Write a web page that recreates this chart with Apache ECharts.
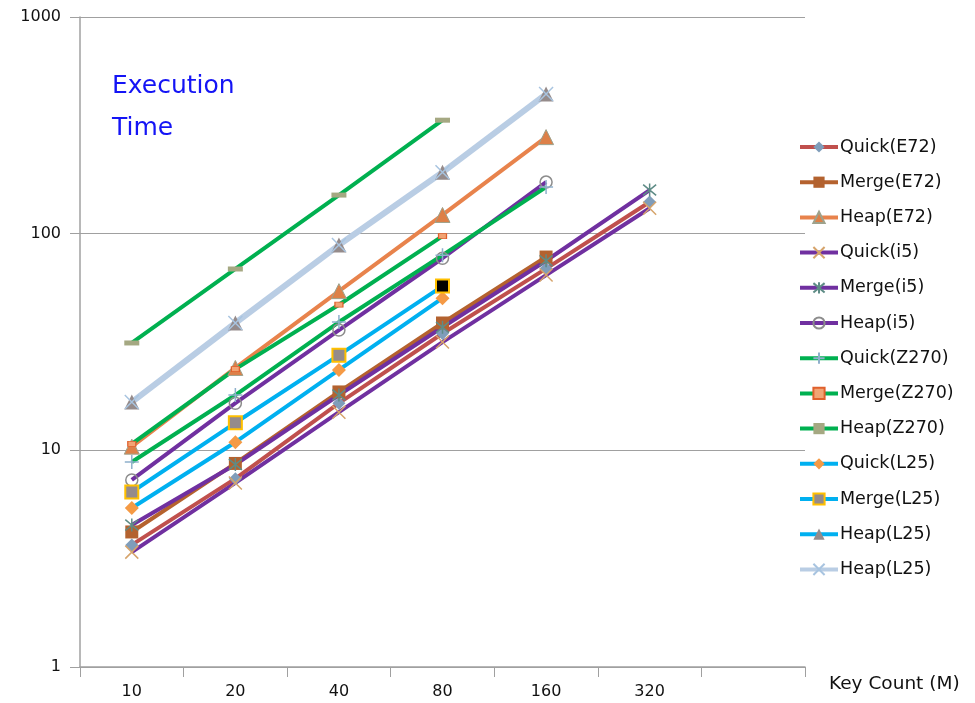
<!DOCTYPE html>
<html>
<head>
<meta charset="utf-8">
<script src="https://cdn.jsdelivr.net/npm/echarts@6/dist/echarts.min.js"></script>
<style>html,body{margin:0;padding:0;background:#fff;}#c{width:975px;height:703px;}</style>
</head>
<body>
<div id="c"></div>
<script>
const categories = ['10', '20', '40', '80', '160', '320', ''];
const yTicks = [1, 10, 100, 1000];

const quickE72 = [3.66, 7.4, 16.5, 34.6, 69, 140];
const mergeE72 = [4.2, 8.7, 18.6, 38.7, 78];
const heapE72 = [10.4, 24.0, 54.3, 122, 279];
const quickI5 = [3.39, 7.07, 15.0, 31.6, 64.4, 131];
const mergeI5 = [4.52, 8.6, 18.0, 37, 75, 159];
const heapI5 = [7.3, 16.5, 35.9, 77, 173];
const quickZ270 = [8.83, 18.0, 39.1, 79.6, 164];
const mergeZ270 = [10.7, 23.7, 47.0, 97.5];
const heapZ270 = [31.3, 68.7, 150.7, 334];
const quickL25 = [5.42, 10.9, 23.5, 50.4];
const mergeL25 = [6.42, 13.4, 27.5, 57.3];
const heapL25 = [16.7, 38.7, 88.6, 192, 441];
const heapL25b = [16.7, 38.7, 88.6, 192, 441];

const seriesNames = ['Quick(E72)', 'Merge(E72)', 'Heap(E72)', 'Quick(i5)', 'Merge(i5)', 'Heap(i5)',
  'Quick(Z270)', 'Merge(Z270)', 'Heap(Z270)', 'Quick(L25)', 'Merge(L25)', 'Heap(L25)', 'Heap(L25) '];

const X = 'path://M0,0L10,10M10,0L0,10';
const AST = 'path://M0,0L10,10M10,0L0,10M5,-1L5,11';
const PLUS = 'path://M5,0L5,10M0,5L10,5';

function mk(name, data, lineColor, width, symbol, size, itemStyle, z) {
  return {
    name: name, type: 'line', data: data,
    symbol: symbol, symbolSize: size, showSymbol: true,
    lineStyle: { color: lineColor, width: width },
    itemStyle: itemStyle,
    emphasis: { disabled: true },
    z: z || 2,
    animation: false
  };
}

const RED = '#c0504d', BROWN = '#b5622e', ORANGE = '#e8834c', PURPLE = '#7030a0',
  GREEN = '#00b050', BLUE = '#00b0f0', PALE = '#b9cde4';

const mergeL25Data = mergeL25.map((v, i) => i === 3 ? { value: v, itemStyle: { color: '#000000', borderColor: '#ffc000', borderWidth: 2 } } : v);

const LW = 4;
const series = [
  mk(seriesNames[0], quickE72, RED, LW, 'diamond', 13, { color: '#7f9dba' }),
  mk(seriesNames[1], mergeE72, BROWN, LW, 'rect', 13, { color: '#b3622f' }),
  mk(seriesNames[2], heapE72, ORANGE, LW, 'triangle', 15, { color: '#dd8048', borderColor: '#9ea28c', borderWidth: 1 }),
  mk(seriesNames[3], quickI5, PURPLE, LW, X, 13, { color: 'none', borderColor: '#d6a46b', borderWidth: 1.5 }),
  mk(seriesNames[4], mergeI5, PURPLE, LW, AST, 13, { color: 'none', borderColor: '#5e8c86', borderWidth: 1.5 }),
  mk(seriesNames[5], heapI5, PURPLE, LW, 'circle', 12, { color: 'rgba(255,255,255,0)', borderColor: '#8c8c8c', borderWidth: 1.5 }),
  mk(seriesNames[6], quickZ270, GREEN, LW, PLUS, 14, { color: 'none', borderColor: '#8fb0cc', borderWidth: 1.5 }),
  mk(seriesNames[7], mergeZ270, GREEN, LW, 'rect', [8, 5], { color: '#f2a474', borderColor: '#e0602c', borderWidth: 1 }),
  mk(seriesNames[8], heapZ270, GREEN, LW, 'rect', [15, 5], { color: '#a5a882' }),
  mk(seriesNames[9], quickL25, BLUE, LW, 'diamond', 14, { color: '#f59a45' }),
  mk(seriesNames[10], mergeL25Data, BLUE, LW, 'rect', 13, { color: '#958b8b', borderColor: '#ffc000', borderWidth: 2 }),
  mk(seriesNames[11], heapL25, BLUE, 3.5, 'triangle', 15, { color: '#958b8b' }),
  mk(seriesNames[12], heapL25b, PALE, 6, X, 14, { color: 'none', borderColor: '#a8c4e0', borderWidth: 1.5 })
];

const chart = echarts.init(document.getElementById('c'), null, { renderer: 'canvas' });
chart.setOption({
  backgroundColor: '#ffffff',
  animation: false,
  title: {
    text: 'Execution\nTime',
    left: 107, top: 60,
    textStyle: { color: '#1414f5', fontSize: 25, fontWeight: 'normal', lineHeight: 42, fontFamily: 'DejaVu Sans, sans-serif' }
  },
  legend: {
    orient: 'vertical', left: 793, top: 133,
    itemWidth: 38, itemHeight: 14, itemGap: 17.2,
    data: seriesNames,
    lineStyle: { width: 4 },
    textStyle: { fontSize: 17.5, color: '#111', fontFamily: 'DejaVu Sans, sans-serif', padding: [0, 0, 0, -3] },
    selectedMode: false
  },
  grid: { left: 80, right: 170, top: 17, bottom: 36, containLabel: false },
  xAxis: {
    type: 'category', data: categories, boundaryGap: true,
    name: 'Key Count (M)', nameLocation: 'end', nameGap: 24,
    nameTextStyle: { fontSize: 18.5, color: '#111', align: 'left', verticalAlign: 'top', padding: [8, 0, 0, 0], fontFamily: 'DejaVu Sans, sans-serif' },
    axisLine: { lineStyle: { color: '#a0a0a0', width: 1.5 } },
    axisTick: { show: true, alignWithLabel: false, interval: 0, length: 10, lineStyle: { color: '#a0a0a0' } },
    axisLabel: { interval: 0, fontSize: 16, color: '#111', margin: 17, fontFamily: 'DejaVu Sans, sans-serif' },
    splitLine: { show: false }
  },
  yAxis: {
    type: 'log', logBase: 10, min: yTicks[0], max: yTicks[yTicks.length - 1],
    axisLine: { show: true, lineStyle: { color: '#a0a0a0', width: 1.5 } },
    axisTick: { show: true, length: 10, lineStyle: { color: '#a0a0a0' } },
    axisLabel: { fontSize: 16, color: '#111', margin: 19, fontFamily: 'DejaVu Sans, sans-serif', formatter: v => String(Math.round(v)) },
    splitLine: { show: true, lineStyle: { color: '#a0a0a0', width: 1.2 } },
    minorTick: { show: false }
  },
  series: series
});
</script>
</body>
</html>
